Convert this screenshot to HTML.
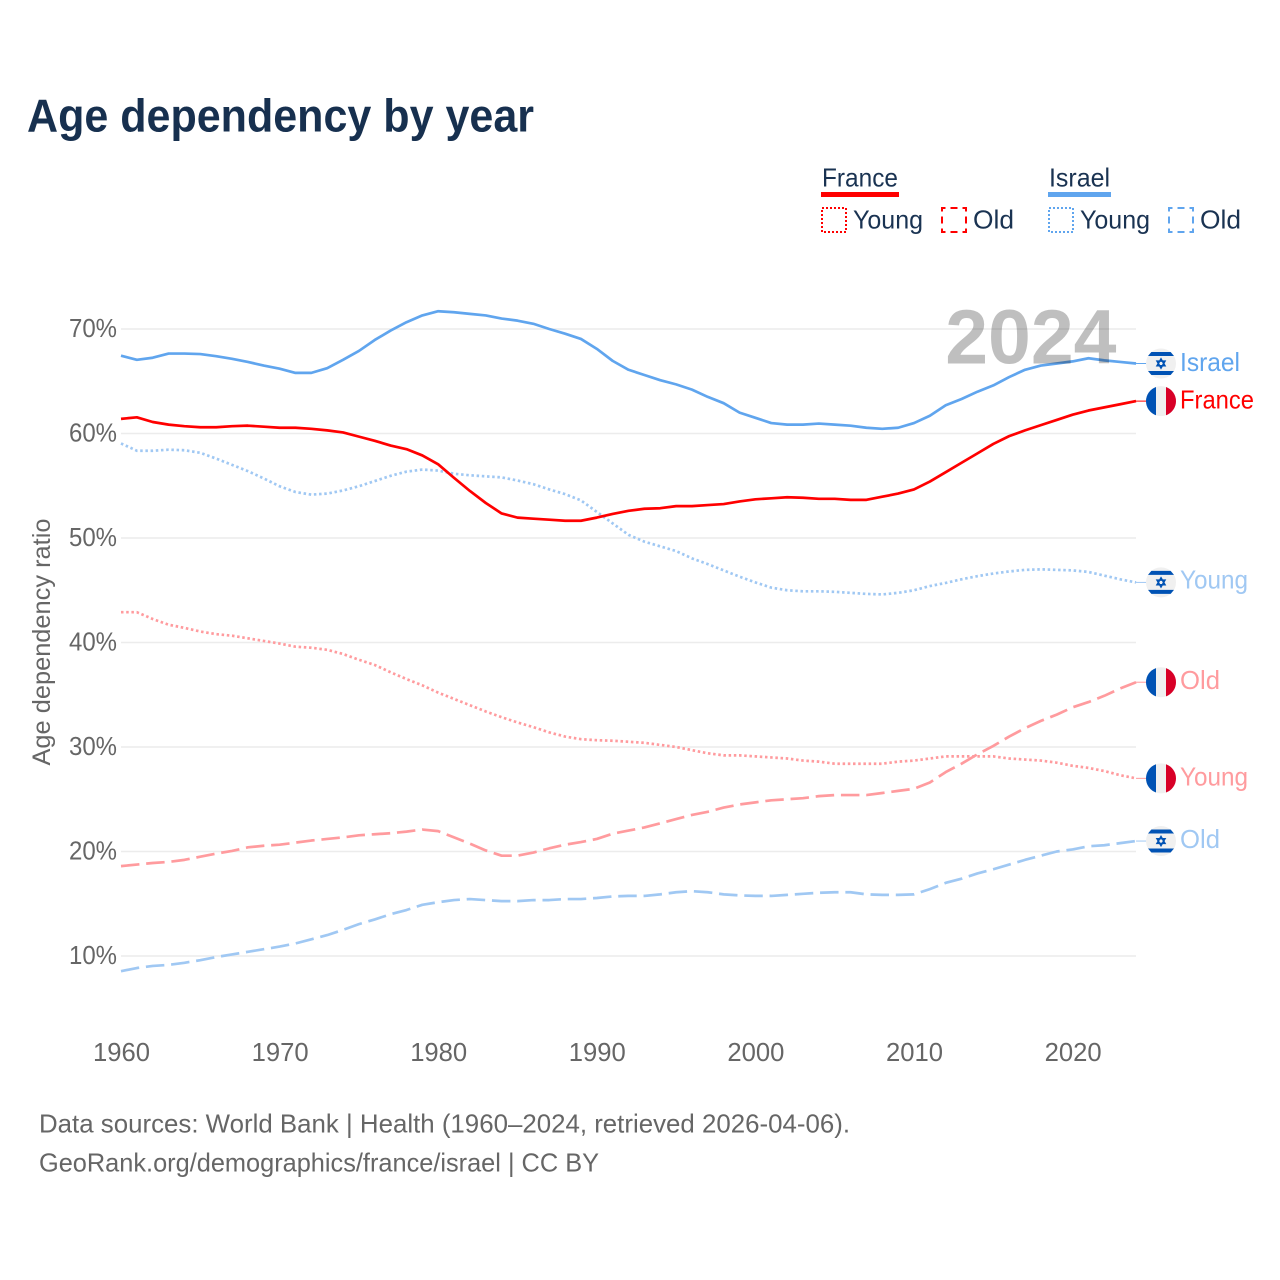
<!DOCTYPE html>
<html lang="en">
<head>
<meta charset="utf-8">
<title>Age dependency by year</title>
<style>
html,body{margin:0;padding:0;background:#fff}
svg{display:block}
text{font-family:"Liberation Sans",sans-serif}
</style>
</head>
<body>
<svg id="chart" xmlns="http://www.w3.org/2000/svg" width="1280" height="1280" viewBox="0 0 1280 1280">
  <rect width="1280" height="1280" fill="#ffffff"/>
  <text x="27" y="131.5" font-size="46" font-weight="700" fill="#17304f" textLength="507" lengthAdjust="spacingAndGlyphs">Age dependency by year</text>

  <g font-size="26" fill="#1a3352">
    <text x="822" y="186.5" textLength="76" lengthAdjust="spacingAndGlyphs">France</text>
    <rect x="821" y="192" width="78" height="5" fill="#ff0000"/>
    <rect x="822" y="208" width="24" height="24" fill="none" stroke="#ff0000" stroke-width="2" stroke-dasharray="2 2"/>
    <text x="853" y="228.5" textLength="70" lengthAdjust="spacingAndGlyphs">Young</text>
    <rect x="942" y="208" width="24" height="24" fill="none" stroke="#ff0000" stroke-width="2" stroke-dasharray="7 5" stroke-dashoffset="3.5"/>
    <text x="973" y="228.5" textLength="41" lengthAdjust="spacingAndGlyphs">Old</text>
    <text x="1049" y="186.5" textLength="61" lengthAdjust="spacingAndGlyphs">Israel</text>
    <rect x="1048" y="192" width="63" height="5" fill="#60a5ee"/>
    <rect x="1049" y="208" width="24" height="24" fill="none" stroke="#60a5ee" stroke-width="2" stroke-dasharray="2 2"/>
    <text x="1080" y="228.5" textLength="70" lengthAdjust="spacingAndGlyphs">Young</text>
    <rect x="1169" y="208" width="24" height="24" fill="none" stroke="#60a5ee" stroke-width="2" stroke-dasharray="7 5" stroke-dashoffset="3.5"/>
    <text x="1200" y="228.5" textLength="41" lengthAdjust="spacingAndGlyphs">Old</text>
  </g>

  <g id="grid"></g>
  <g id="yticks"></g>
  <g id="xticks"></g>
  <text transform="translate(50,642) rotate(-90)" text-anchor="middle" font-size="25" fill="#666666" textLength="247" lengthAdjust="spacingAndGlyphs">Age dependency ratio</text>

  <g id="series"></g>
  <text x="1116.5" y="363.5" text-anchor="end" font-size="77" font-weight="700" fill="#000000" fill-opacity="0.25">2024</text>
  <g id="endmarks"></g>

  <text x="39" y="1132.5" font-size="26" fill="#666666" textLength="811" lengthAdjust="spacingAndGlyphs">Data sources: World Bank | Health (1960–2024, retrieved 2026-04-06).</text>
  <text x="39" y="1171.5" font-size="26" fill="#666666" textLength="560" lengthAdjust="spacingAndGlyphs">GeoRank.org/demographics/france/israel | CC BY</text>
</svg>
<script>
var startYear = 1960;
var xTickYears = [1960, 1970, 1980, 1990, 2000, 2010, 2020];
var yTickValues = [10, 20, 30, 40, 50, 60, 70];

var israelTotal = [
  67.45,67.05,67.25,67.65,67.65,67.6,67.4,67.15,66.85,66.5,
  66.2,65.8,65.8,66.25,67.05,67.9,68.95,69.85,70.65,71.3,
  71.7,71.6,71.45,71.3,71.0,70.8,70.5,70.0,69.55,69.05,
  68.1,66.95,66.1,65.6,65.1,64.7,64.2,63.5,62.9,62.0,
  61.5,61.0,60.85,60.85,60.95,60.85,60.75,60.55,60.45,60.55,
  61.0,61.7,62.7,63.3,64.0,64.6,65.4,66.1,66.5,66.7,
  66.9,67.2,67.0,66.85,66.7];
var franceTotal = [
  61.4,61.55,61.1,60.85,60.7,60.6,60.6,60.7,60.75,60.65,
  60.55,60.55,60.45,60.3,60.1,59.7,59.3,58.85,58.5,57.9,
  57.05,55.75,54.5,53.35,52.35,51.95,51.85,51.75,51.65,51.65,
  51.95,52.3,52.6,52.8,52.85,53.05,53.05,53.15,53.25,53.5,
  53.7,53.8,53.9,53.85,53.75,53.75,53.65,53.65,53.95,54.25,
  54.65,55.4,56.3,57.2,58.1,59.0,59.75,60.3,60.8,61.3,
  61.8,62.2,62.5,62.8,63.1];
var israelYoung = [
  59.05,58.35,58.35,58.45,58.4,58.15,57.6,57.0,56.4,55.7,
  54.95,54.4,54.15,54.25,54.55,54.95,55.45,55.95,56.35,56.55,
  56.45,56.15,56.0,55.9,55.8,55.5,55.15,54.65,54.2,53.6,
  52.5,51.4,50.3,49.65,49.2,48.75,48.05,47.5,46.9,46.3,
  45.75,45.25,45.0,44.9,44.9,44.85,44.75,44.65,44.6,44.75,
  45.0,45.4,45.7,46.05,46.35,46.6,46.8,46.95,47.0,46.95,
  46.9,46.75,46.4,46.05,45.75];
var franceYoung = [
  42.9,42.9,42.25,41.7,41.4,41.05,40.8,40.65,40.4,40.15,
  39.9,39.6,39.5,39.3,38.9,38.35,37.85,37.15,36.5,35.9,
  35.2,34.6,34.0,33.4,32.85,32.35,31.9,31.4,31.0,30.75,
  30.65,30.6,30.5,30.4,30.2,30.0,29.7,29.4,29.2,29.2,
  29.1,29.0,28.9,28.7,28.6,28.4,28.4,28.4,28.4,28.6,
  28.7,28.9,29.1,29.1,29.1,29.1,28.9,28.8,28.7,28.5,
  28.2,28.0,27.7,27.3,27.0];
var franceOld = [
  18.6,18.75,18.9,19.0,19.2,19.5,19.8,20.05,20.4,20.55,
  20.65,20.85,21.05,21.2,21.35,21.55,21.65,21.75,21.9,22.1,
  21.95,21.35,20.75,20.1,19.6,19.6,19.9,20.3,20.65,20.9,
  21.2,21.7,22.0,22.3,22.7,23.1,23.5,23.8,24.2,24.5,
  24.7,24.9,25.0,25.1,25.3,25.4,25.4,25.4,25.6,25.8,
  26.0,26.6,27.6,28.4,29.3,30.1,31.0,31.8,32.5,33.1,
  33.8,34.3,34.9,35.6,36.2];
var israelOld = [
  8.55,8.85,9.05,9.15,9.35,9.6,9.9,10.15,10.4,10.65,
  10.9,11.2,11.6,12.0,12.5,13.05,13.5,14.0,14.4,14.9,
  15.15,15.35,15.45,15.35,15.25,15.25,15.35,15.35,15.45,15.45,
  15.55,15.7,15.75,15.75,15.9,16.1,16.2,16.1,15.9,15.8,
  15.75,15.75,15.85,15.95,16.05,16.1,16.1,15.9,15.85,15.85,
  15.9,16.4,17.0,17.4,17.9,18.3,18.75,19.2,19.6,20.0,
  20.2,20.5,20.6,20.8,21.0];

function xScale(year) { return 121 + (year - startYear) * 15.86; }
function yScale(value) { return 329 + (70 - value) * 10.45; }

var NS = 'http://www.w3.org/2000/svg';
function make(tag, attrs, parent) {
  var node = document.createElementNS(NS, tag);
  for (var key in attrs) node.setAttribute(key, attrs[key]);
  parent.appendChild(node);
  return node;
}

var gridGroup = document.getElementById('grid');
var yTickGroup = document.getElementById('yticks');
var xTickGroup = document.getElementById('xticks');
var seriesGroup = document.getElementById('series');
var endGroup = document.getElementById('endmarks');

yTickValues.forEach(function (value) {
  var line = make('line', {x1: 121, x2: 1136, y1: yScale(value), y2: yScale(value), stroke: '#ececec', 'stroke-width': 1.5}, gridGroup);
  
  
  var label = make('text', {x: 117, y: yScale(value) + 8, 'text-anchor': 'end', 'font-size': 26, fill: '#666666', textLength: 48, lengthAdjust: 'spacingAndGlyphs'}, yTickGroup);
  label.textContent = value + '%';
  
  
});

xTickYears.forEach(function (year) {
  var label = make('text', {x: xScale(year) + 0.5, y: 1061, 'text-anchor': 'middle', 'font-size': 26, fill: '#666666', textLength: 57, lengthAdjust: 'spacingAndGlyphs'}, xTickGroup);
  label.textContent = year;
  
  
});

function drawLine(values, color, dash, name) {
  var points = values.map(function (v, i) {
    return xScale(startYear + i).toFixed(2) + ',' + yScale(v).toFixed(2);
  });
  var attrs = {points: points.join(' '), fill: 'none', stroke: color, 'stroke-width': 2.7, 'stroke-linejoin': 'round'};
  if (dash) attrs['stroke-dasharray'] = dash;
  var line = make('polyline', attrs, seriesGroup);
  
  
}

var dotted = '2.5 2.7';
var dashed = '18.5 6.8';
drawLine(israelOld, '#a0c8f3', dashed, 'israel-old-line');
drawLine(franceOld, '#ff9b9e', dashed, 'france-old-line');
drawLine(israelYoung, '#a0c8f3', dotted, 'israel-young-line');
drawLine(franceYoung, '#ff9b9e', dotted, 'france-young-line');
drawLine(israelTotal, '#60a5ee', null, 'israel-total-line');
drawLine(franceTotal, '#ff0000', null, 'france-total-line');

function drawFrance(g, cy) {
  var cx = 1161, r = 15;
  var base = make('circle', {cx: cx, cy: cy, r: r, fill: '#f0f0f0'}, g);
  
  
  var blue = make('path', {d: 'M' + (cx - 5) + ' ' + (cy - 14.14) + 'A15 15 0 0 0 ' + (cx - 5) + ' ' + (cy + 14.14) + 'Z', fill: '#0052b4'}, g);
  
  
  var red = make('path', {d: 'M' + (cx + 5) + ' ' + (cy - 14.14) + 'A15 15 0 0 1 ' + (cx + 5) + ' ' + (cy + 14.14) + 'Z', fill: '#d80027'}, g);
  
  
}

function bandPath(cx, cy, y0, y1) {
  var r = 15;
  var w0 = Math.sqrt(r * r - y0 * y0), w1 = Math.sqrt(r * r - y1 * y1);
  return 'M' + (cx - w0) + ' ' + (cy + y0) + 'L' + (cx + w0) + ' ' + (cy + y0) + 'L' + (cx + w1) + ' ' + (cy + y1) + 'L' + (cx - w1) + ' ' + (cy + y1) + 'Z';
}

function drawIsrael(g, cy) {
  var cx = 1161;
  var base = make('circle', {cx: cx, cy: cy, r: 15, fill: '#f0f0f0'}, g);
  
  
  var top = make('path', {d: bandPath(cx, cy, -11.5, -7.5), fill: '#0052b4'}, g);
  
  
  var bottom = make('path', {d: bandPath(cx, cy, 7.5, 11.5), fill: '#0052b4'}, g);
  
  
  var star = make('path', {d: 'M' + cx + ' ' + (cy - 4.6) + 'l4 6.9h-8z M' + cx + ' ' + (cy + 4.6) + 'l4 -6.9h-8z', fill: 'none', stroke: '#0052b4', 'stroke-width': 1.5}, g);
  
  
}

function drawEnd(values, country, color, word, textWidth, labelDy, name) {
  var cy = yScale(values[values.length - 1]);
  var lead = make('line', {x1: xScale(2024), x2: 1146, y1: cy, y2: cy, stroke: color, 'stroke-width': 1}, endGroup);
  
  
  var g = make('g', {}, endGroup);
  
  
  if (country === 'france') drawFrance(g, cy); else drawIsrael(g, cy);
  var label = make('text', {x: 1180, y: cy + labelDy, 'font-size': 26, fill: color, textLength: textWidth, lengthAdjust: 'spacingAndGlyphs'}, endGroup);
  label.textContent = word;
  
  
}

drawEnd(israelTotal, 'israel', '#60a5ee', 'Israel', 60, 7.5, 'israel-total');
drawEnd(franceTotal, 'france', '#ff0000', 'France', 74, 7.5, 'france-total');
drawEnd(israelYoung, 'israel', '#a0c8f3', 'Young', 68, 6, 'israel-young');
drawEnd(franceOld, 'france', '#ff9b9e', 'Old', 40, 7, 'france-old');
drawEnd(franceYoung, 'france', '#ff9b9e', 'Young', 68, 7, 'france-young');
drawEnd(israelOld, 'israel', '#a0c8f3', 'Old', 40, 7, 'israel-old');
</script>
</body>
</html>
